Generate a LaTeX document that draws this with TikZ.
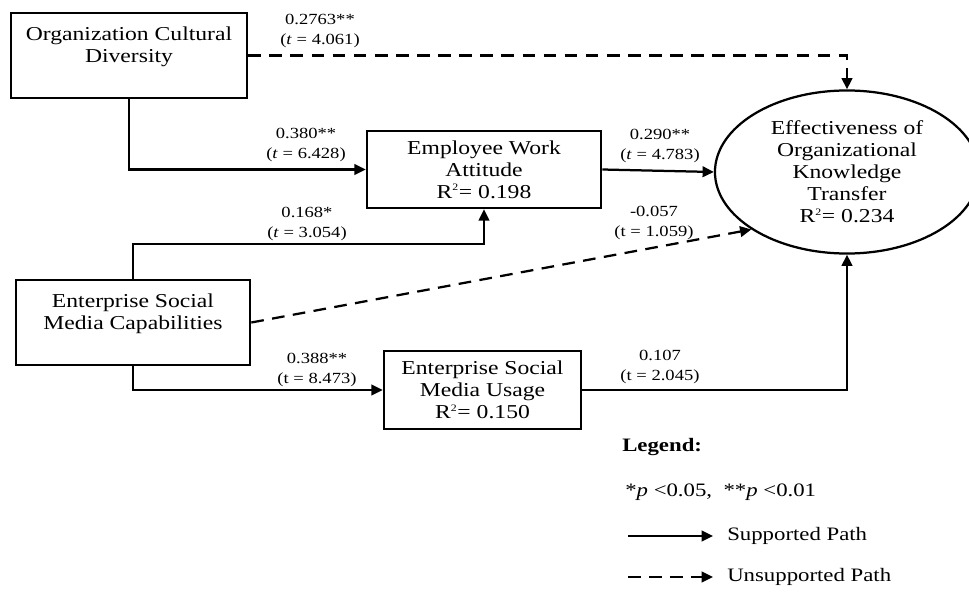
\documentclass[tikz,border=0pt]{standalone}
\usepackage{fontspec}
\setmainfont{Liberation Serif}[FakeStretch=1.2]
\usetikzlibrary{arrows.meta,shapes.geometric}
\newcommand{\rsq}{R\textsuperscript{\fontsize{7}{7}\selectfont 2}}
\tikzset{vbox/.style={
    rectangle,
    draw,
    line width=1.8pt,
    align=center,
    inner sep=0pt,
    font=\fontsize{14}{15.6}\selectfont
  },
  evbox/.style={vbox,ellipse,line width=1.6pt},
  coef/.style={align=center,inner sep=0pt,font=\fontsize{11}{14}\selectfont},
  lgd/.style={anchor=west,inner sep=0pt,font=\fontsize{13.5}{16}\selectfont},
  spath/.style={line width=1.6pt,-{Triangle[length=8pt,width=7.5pt]}},
  upath/.style={spath,dash pattern=on 9pt off 6pt},
}
\begin{document}
\begin{tikzpicture}[x=0.025cm,y=-0.025cm]
  \useasboundingbox (0,0) rectangle (969,592);
  \node[vbox,minimum width=5.9cm,minimum height=2.125cm] (ocd) at (129,55.5) {Organization Cultural\\Diversity\\\mbox{}};
  \node[vbox,minimum width=5.85cm,minimum height=1.925cm] (ewa) at (484,169.5) {Employee Work\\Attitude\\\rsq= 0.198};
  \node[vbox,minimum width=5.85cm,minimum height=2.125cm] (esmc) at (133,322.5) {Enterprise Social\\Media Capabilities\\\mbox{}};
  \node[vbox,minimum width=4.925cm,minimum height=1.95cm] (esmu) at (482.5,390) {Enterprise Social\\Media Usage\\\rsq= 0.150};
  \node[evbox,minimum width=6.6cm,minimum height=4.075cm] (ekt) at (847,172) {Effectiveness of\\Organizational\\Knowledge\\Transfer\\\rsq= 0.234};
  \coordinate (k1) at (484,244);

  \draw[upath] (ocd.east) -| (ekt.north);
  \draw[spath] (ocd.south) |- (ewa.west);
  \draw[spath] (esmc.north) |- (k1) -- (ewa.south);
  \draw[upath] (esmc.east) -- (ekt.211);
  \draw[spath] (ewa.east) -- (ekt.west);
  \draw[spath] (esmc.south) |- (esmu.west);
  \draw[spath] (esmu.east) -| (ekt.south);

  \node[coef] (c1) at (320,31) {0.2763**\\(\textit{t} = 4.061)};
  \node[coef] (c2) at (306,145) {0.380**\\(\textit{t} = 6.428)};
  \node[coef] (c3) at (307,224) {0.168*\\(\textit{t} = 3.054)};
  \node[coef] (c4) at (660,146) {0.290**\\(\textit{t} = 4.783)};
  \node[coef] (c5) at (654,223) {-0.057\\(t = 1.059)};
  \node[coef] (c6) at (317,370) {0.388**\\(t = 8.473)};
  \node[coef] (c7) at (660,367) {0.107\\(t = 2.045)};

  \node[lgd] (lg) at (622,447) {\textbf{Legend:}};
  \node[lgd] (sig) at (625,492) {*\textit{p} <0.05,~~**\textit{p} <0.01};
  \node[lgd] (sp) at (727,536) {Supported Path};
  \node[lgd] (up) at (727,577) {Unsupported Path};
  \coordinate (s1) at (628,536);
  \coordinate (u1) at (628,577);
  \draw[spath] (s1) -- ([xshift=-10pt]sp.west);
  \draw[upath] (u1) -- ([xshift=-10pt]up.west);
\end{tikzpicture}
\end{document}
